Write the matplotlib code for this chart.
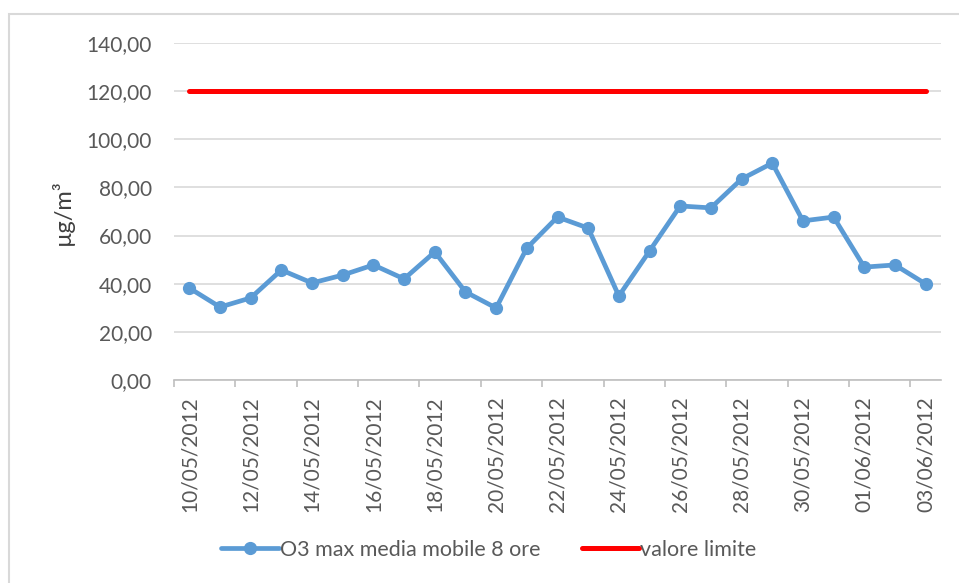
# Ozone 8h moving max vs. limit value, 10/05/2012 - 03/06/2012

import matplotlib
matplotlib.use("Agg")
import matplotlib.pyplot as plt
from matplotlib.patches import Rectangle

dates = ["10/05/2012", "11/05/2012", "12/05/2012", "13/05/2012", "14/05/2012",
         "15/05/2012", "16/05/2012", "17/05/2012", "18/05/2012", "19/05/2012",
         "20/05/2012", "21/05/2012", "22/05/2012", "23/05/2012", "24/05/2012",
         "25/05/2012", "26/05/2012", "27/05/2012", "28/05/2012", "29/05/2012",
         "30/05/2012", "31/05/2012", "01/06/2012", "02/06/2012", "03/06/2012"]
o3 = [38.2, 30.3, 34.1, 45.7, 40.3, 43.6, 47.8, 42.0, 53.2, 36.6,
      29.9, 54.8, 67.7, 63.1, 34.9, 53.6, 72.3, 71.5, 83.5, 90.1,
      66.1, 67.7, 46.9, 47.8, 39.9]
limit = [120.0] * len(dates)
yticks = [0, 20, 40, 60, 80, 100, 120, 140]

def main():
    plt.rcParams['font.family'] = ['Lato', 'DejaVu Sans']
    grey = "#595959"

    fig = plt.figure(figsize=(9.59, 5.83), dpi=100)
    fig.patches.append(Rectangle((9 / 959, -0.1), 1.2, 1 - 14 / 583 + 0.1,
                                 transform=fig.transFigure, fill=False,
                                 edgecolor="#D9D9D9", linewidth=1.5))
    ax = fig.add_axes([174 / 959, 1 - 380 / 583, 767 / 959, 337 / 583])

    x = list(range(len(dates)))
    ax.plot(x, o3, color="#5B9BD5", linewidth=3.4, marker="o", markersize=8.5,
            label="O3 max media mobile 8 ore", solid_capstyle="round")
    ax.plot(x, limit, color="#FF0000", linewidth=3.6, label="valore limite",
            solid_capstyle="round")

    ax.set_xlim(-0.5, len(dates) - 0.5)
    ax.set_ylim(0, 140)
    ax.set_yticks(yticks)
    ax.set_yticklabels([f"{v:.2f}".replace(".", ",") for v in yticks])
    ax.set_xticks(x[::2])
    ax.set_xticklabels(dates[::2], rotation=90)
    ax.set_xticks([i - 0.5 for i in range(0, len(dates), 2)], minor=True)
    ax.tick_params(axis="x", which="major", length=0, pad=12,
                   labelsize=15, labelcolor=grey)
    ax.tick_params(axis="x", which="minor", length=5, width=1.2, color="#BFBFBF")
    ax.tick_params(axis="y", length=0, pad=16, labelsize=15, labelcolor=grey)

    ax.grid(axis="y", color="#D9D9D9", linewidth=1.2)
    ax.set_axisbelow(True)
    for s in ["top", "right", "left"]:
        ax.spines[s].set_visible(False)
    ax.spines["bottom"].set_color("#BFBFBF")
    ax.spines["bottom"].set_linewidth(1.2)

    fig.text(62 / 959, 1 - 212 / 583, "µg/m³", rotation=90, ha="center",
             va="center", fontsize=17, color="#404040")

    fig.legend(loc="center", bbox_to_anchor=(0.51, 1 - 550 / 583), ncol=2,
               frameon=False, fontsize=15.5, labelcolor=grey,
               handlelength=2.65, handletextpad=0.08, columnspacing=1.9)

    fig.savefig("out.png", dpi=100)

if __name__ == "__main__":
    main()
